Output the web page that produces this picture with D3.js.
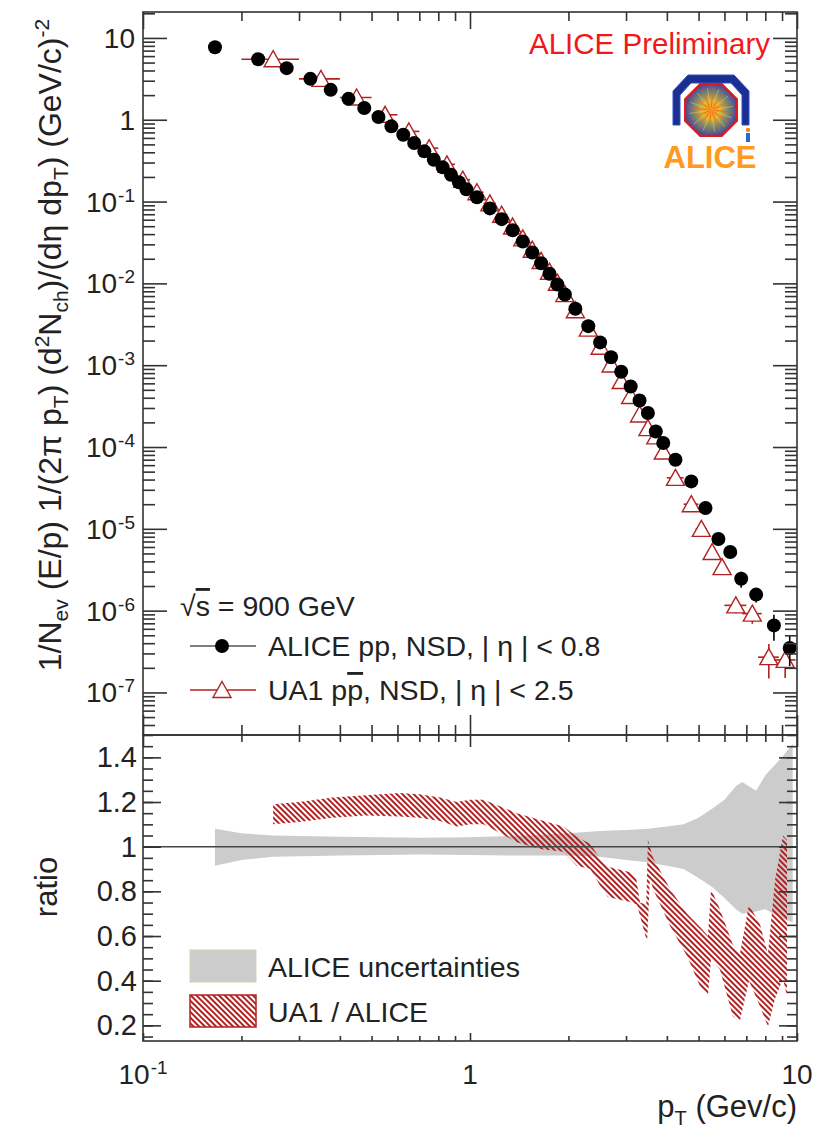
<!DOCTYPE html>
<html>
<head>
<meta charset="utf-8">
<script src="https://cdn.jsdelivr.net/npm/d3@7"></script>
<style>
  body { margin: 0; background: #fff; }
  text { font-family: "Liberation Sans", Arial, Helvetica, sans-serif; fill: #222; }
</style>
</head>
<body>
<svg id="chart" width="820" height="1138"></svg>
<script>
// ---- ALICE pp, NSD, |eta| < 0.8 (invariant yield, (GeV/c)^-2) ----
const alicePt = [0.166, 0.225, 0.275, 0.325, 0.375, 0.425, 0.475, 0.525, 0.575, 0.625,
  0.675, 0.725, 0.775, 0.825, 0.875, 0.925, 0.975, 1.05, 1.15, 1.25, 1.35, 1.45, 1.55,
  1.65, 1.75, 1.85, 1.95, 2.1, 2.3, 2.5, 2.7, 2.9, 3.1, 3.3, 3.5, 3.7, 3.9, 4.25, 4.75,
  5.25, 5.75, 6.25, 6.75, 7.5, 8.5, 9.5];
const aliceYield = [7.7, 5.5, 4.27, 3.16, 2.32, 1.80, 1.39, 1.08, 0.83, 0.656,
  0.52, 0.411, 0.325, 0.262, 0.212, 0.172, 0.141, 0.113, 0.0825, 0.061, 0.0447, 0.0325, 0.0238,
  0.0176, 0.0131, 0.0097, 0.0073, 0.0049, 0.0030, 0.0019, 0.00125, 0.00083, 0.00055, 0.00037,
  0.00026, 0.000155, 0.000112, 7.0e-5, 3.8e-5, 1.8e-5, 7.5e-6, 5.2e-6, 2.45e-6, 1.57e-6,
  6.6e-7, 3.5e-7];
const aliceRelErr = [0.03, 0.03, 0.03, 0.03, 0.03, 0.03, 0.03, 0.03, 0.03, 0.03,
  0.03, 0.03, 0.03, 0.03, 0.03, 0.03, 0.03, 0.03, 0.03, 0.03, 0.03, 0.03, 0.03,
  0.03, 0.03, 0.03, 0.03, 0.03, 0.03, 0.03, 0.03, 0.04, 0.04, 0.04, 0.05, 0.05, 0.05, 0.06, 0.08,
  0.10, 0.12, 0.15, 0.22, 0.20, 0.35, 0.40];

// ---- UA1 p-pbar, NSD, |eta| < 2.5 ----
const ua1Pt = [0.25, 0.35, 0.45, 0.55, 0.65, 0.75, 0.85, 0.95, 1.05, 1.15, 1.25, 1.35,
  1.45, 1.55, 1.65, 1.75, 1.85, 1.95, 2.1, 2.3, 2.5, 2.7, 2.9, 3.1, 3.3, 3.5, 3.7, 3.9,
  4.25, 4.75, 5.1, 5.5, 5.9, 6.5, 7.3, 8.2, 9.2];
const ua1HalfWidth = [0.05, 0.05, 0.05, 0.05, 0.05, 0.05, 0.05, 0.05, 0.05, 0.05, 0.05, 0.05,
  0.05, 0.05, 0.05, 0.05, 0.05, 0.05, 0.1, 0.1, 0.1, 0.1, 0.1, 0.1, 0.1, 0.1, 0.1, 0.1,
  0.25, 0.25, 0.2, 0.2, 0.2, 0.5, 0.5, 0.6, 0.7];
const ua1Yield = [5.5, 3.16, 1.87, 1.15, 0.72, 0.45, 0.285, 0.185, 0.13, 0.095, 0.069, 0.0495,
  0.0355, 0.0258, 0.0188, 0.0139, 0.0102, 0.0074, 0.0047, 0.0028, 0.00168, 0.00102, 0.00064,
  0.00042, 0.00025, 0.00017, 0.000135, 8.8e-5, 4.2e-5, 2.0e-5, 1.0e-5, 5.2e-6, 3.4e-6,
  1.16e-6, 9.2e-7, 2.7e-7, 2.5e-7];
const ua1RelErr = [0.04, 0.04, 0.04, 0.04, 0.04, 0.04, 0.04, 0.04, 0.04, 0.04, 0.04, 0.04,
  0.04, 0.04, 0.04, 0.04, 0.04, 0.04, 0.04, 0.04, 0.04, 0.04, 0.04, 0.04, 0.04, 0.04, 0.04, 0.04,
  0.06, 0.08, 0.10, 0.12, 0.15, 0.20, 0.25, 0.45, 0.40];

// ---- ratio panel: UA1 / ALICE band edges ----
const ratioTopPt = [0.25, 0.30, 0.38, 0.48, 0.61, 0.70, 0.81, 0.91, 1.0, 1.10, 1.24, 1.39,
  1.64, 1.93, 2.12, 2.33, 2.50, 2.64, 3.09, 3.22, 3.31, 3.46, 3.50, 3.63, 4.09, 4.61, 5.05,
  5.34, 5.46, 5.81, 6.37, 6.69, 7.13, 7.71, 8.15, 8.57, 9.06, 9.32];
const ratioTop = [1.19, 1.20, 1.22, 1.23, 1.24, 1.235, 1.22, 1.20, 1.21, 1.21, 1.18, 1.15,
  1.12, 1.09, 1.045, 1.013, 0.946, 0.91, 0.886, 0.86, 0.75, 0.74, 1.03, 0.95, 0.81, 0.70, 0.64,
  0.60, 0.81, 0.72, 0.56, 0.52, 0.74, 0.65, 0.52, 0.85, 1.05, 1.03];
const ratioBotPt = [0.25, 0.30, 0.38, 0.48, 0.61, 0.70, 0.81, 0.91, 1.0, 1.10, 1.24, 1.39,
  1.64, 1.93, 2.12, 2.33, 2.50, 2.64, 3.09, 3.24, 3.48, 3.55, 3.63, 4.09, 4.61, 5.05,
  5.34, 5.46, 5.81, 6.37, 6.69, 7.13, 7.71, 8.15, 8.57, 9.06, 9.32];
const ratioBot = [1.10, 1.11, 1.13, 1.14, 1.135, 1.13, 1.115, 1.09, 1.10, 1.10, 1.06, 1.02,
  0.99, 0.977, 0.915, 0.90, 0.825, 0.775, 0.752, 0.74, 0.573, 0.86, 0.81, 0.645, 0.51, 0.375,
  0.33, 0.50, 0.45, 0.24, 0.22, 0.40, 0.285, 0.195, 0.32, 0.41, 0.33];

// ---- ratio panel: ALICE uncertainty band ----
const uncPt = [0.166, 0.2, 0.25, 0.4, 0.7, 1.0, 1.5, 2.0, 2.5, 3.0, 3.5, 4.0, 4.5, 5.0, 5.5,
  6.0, 6.5, 6.8, 7.5, 8.0, 9.0, 9.7];
const uncHi = [1.08, 1.06, 1.05, 1.045, 1.04, 1.042, 1.05, 1.06, 1.07, 1.075, 1.08, 1.09,
  1.10, 1.13, 1.17, 1.21, 1.27, 1.29, 1.25, 1.32, 1.40, 1.46];
const uncLo = [0.915, 0.94, 0.955, 0.96, 0.965, 0.963, 0.96, 0.96, 0.955, 0.94, 0.93, 0.915,
  0.90, 0.86, 0.82, 0.77, 0.72, 0.70, 0.71, 0.72, 0.68, 0.66];

// ---- axis tick labels ----
const yExponents = [1, 0, -1, -2, -3, -4, -5, -6, -7];
const ratioTickLabels = [0.2, 0.4, 0.6, 0.8, 1, 1.2, 1.4];
const xExponents = [-1, 0, 1];

// ---------------- layout ----------------
const L = 143, R = 797, T = 12, M = 735, B = 1041;
const svg = d3.select("#chart");
const INK = "#333";
const RED = "#b22222";

const x = d3.scaleLog().domain([0.1, 10]).range([L, R]);
const y = d3.scaleLog().domain([Math.pow(10, -7.52), Math.pow(10, 1.317)]).range([M, T]);
const yr = d3.scaleLinear().domain([0.13, 1.5]).range([B, M]);

const defs = svg.append("defs");
const hatch = defs.append("pattern").attr("id", "hatch")
  .attr("patternUnits", "userSpaceOnUse").attr("width", 6).attr("height", 4)
  .attr("patternTransform", "rotate(45)");
hatch.append("rect").attr("width", 6).attr("height", 2).attr("fill", RED);
defs.append("clipPath").attr("id", "clipUp").append("rect")
  .attr("x", L).attr("y", T).attr("width", R - L).attr("height", M - T);
defs.append("clipPath").attr("id", "clipLo").append("rect")
  .attr("x", L).attr("y", M).attr("width", R - L).attr("height", B - M);

// minor tick values
const xMinor = [];
[0.1, 1].forEach(d => { for (let k = 2; k <= 9; k++) xMinor.push(d * k); });
const yMinor = [];
for (let e = -8; e <= 1; e++) for (let k = 2; k <= 9; k++) {
  const v = k * Math.pow(10, e);
  if (v > y.domain()[0] && v < y.domain()[1]) yMinor.push(v);
}
const yMajor = yExponents.map(e => Math.pow(10, e));
const xMajor = xExponents.map(e => Math.pow(10, e));
const rMinor = d3.range(0.15, 1.501, 0.05);

function tickAxis(axisFn, scale, values, size, tx, ty) {
  const g = svg.append("g").attr("transform", `translate(${tx},${ty})`)
    .call(axisFn(scale).tickValues(values).tickSize(-size).tickSizeOuter(0).tickFormat(""));
  g.select(".domain").remove();
  g.selectAll("line").attr("stroke", INK).attr("stroke-width", 1.6);
  return g;
}

// ---------------- ratio panel content ----------------
const lower = svg.append("g").attr("clip-path", "url(#clipLo)");
const uncArea = d3.area().x((d, i) => x(uncPt[i])).y0((d, i) => yr(uncLo[i])).y1((d, i) => yr(uncHi[i]));
lower.append("path").attr("d", uncArea(uncPt)).attr("fill", "#cccccc");

// band polygon: top edge left->right, bottom edge right->left
const bandPts = ratioTopPt.map((p, i) => [x(p), yr(ratioTop[i])])
  .concat(ratioBotPt.map((p, i) => [x(p), yr(ratioBot[i])]).reverse());
lower.append("path").attr("d", d3.line()(bandPts) + "Z").attr("fill", "url(#hatch)");

lower.append("line").attr("x1", L).attr("x2", R).attr("y1", yr(1)).attr("y2", yr(1))
  .attr("stroke", "#444").attr("stroke-width", 1.6);

// ---------------- spectra ----------------
const upper = svg.append("g").attr("clip-path", "url(#clipUp)");
const triPath = "M0,-8.5L9,7.5L-9,7.5Z";

const ua1 = upper.append("g");
ua1Pt.forEach((p, i) => {
  const cx = x(p), cy = y(ua1Yield[i]);
  ua1.append("line").attr("x1", x(p - ua1HalfWidth[i])).attr("x2", x(p + ua1HalfWidth[i]))
    .attr("y1", cy).attr("y2", cy).attr("stroke", RED).attr("stroke-width", 1.6);
  ua1.append("line").attr("x1", cx).attr("x2", cx)
    .attr("y1", y(ua1Yield[i] * (1 + ua1RelErr[i]))).attr("y2", y(ua1Yield[i] * (1 - ua1RelErr[i])))
    .attr("stroke", RED).attr("stroke-width", 1.6);
  ua1.append("path").attr("d", triPath).attr("transform", `translate(${cx},${cy})`)
    .attr("fill", "#fff").attr("stroke", RED).attr("stroke-width", 1.4);
});

const alice = upper.append("g");
alicePt.forEach((p, i) => {
  const cx = x(p);
  alice.append("line").attr("x1", cx).attr("x2", cx)
    .attr("y1", y(aliceYield[i] * (1 + aliceRelErr[i]))).attr("y2", y(aliceYield[i] * (1 - aliceRelErr[i])))
    .attr("stroke", "#000").attr("stroke-width", 1.6);
  alice.append("circle").attr("cx", cx).attr("cy", y(aliceYield[i])).attr("r", 7).attr("fill", "#000");
});

// ---------------- frames and ticks ----------------
svg.append("rect").attr("x", L).attr("y", T).attr("width", R - L).attr("height", M - T)
  .attr("fill", "none").attr("stroke", INK).attr("stroke-width", 1.6);
svg.append("rect").attr("x", L).attr("y", M).attr("width", R - L).attr("height", B - M)
  .attr("fill", "none").attr("stroke", INK).attr("stroke-width", 1.6);

// upper panel
tickAxis(d3.axisLeft, y, yMajor, 24, L, 0);
tickAxis(d3.axisLeft, y, yMinor, 12, L, 0);
tickAxis(d3.axisRight, y, yMajor, 24, R, 0);
tickAxis(d3.axisRight, y, yMinor, 12, R, 0);
tickAxis(d3.axisTop, x, xMajor, 17, 0, T);
tickAxis(d3.axisTop, x, xMinor, 9, 0, T);
tickAxis(d3.axisBottom, x, xMajor, 20, 0, M);
tickAxis(d3.axisBottom, x, xMinor, 10, 0, M);
// ratio panel
tickAxis(d3.axisTop, x, xMajor, 12, 0, M);
tickAxis(d3.axisTop, x, xMinor, 7, 0, M);
tickAxis(d3.axisBottom, x, xMajor, 8, 0, B);
tickAxis(d3.axisBottom, x, xMinor, 5, 0, B);
tickAxis(d3.axisLeft, yr, ratioTickLabels, 18, L, 0);
tickAxis(d3.axisLeft, yr, rMinor, 10, L, 0);
tickAxis(d3.axisRight, yr, ratioTickLabels, 18, R, 0);
tickAxis(d3.axisRight, yr, rMinor, 10, R, 0);

// ---------------- tick labels ----------------
const FS = 28, FSE = 19;
function powLabel(g, e, px, py, anchor) {
  const t = g.append("text").attr("x", px).attr("y", py).attr("text-anchor", anchor)
    .attr("font-size", FS);
  if (e === 0) { t.text("1"); return t; }
  if (e === 1) { t.text("10"); return t; }
  t.append("tspan").text("10");
  t.append("tspan").attr("dy", -10).attr("dx", 1).attr("font-size", FSE).text(e < 0 ? "-" + (-e) : e);
  return t;
}
const labels = svg.append("g");
yExponents.forEach(e => powLabel(labels, e, 135, y(Math.pow(10, e)) + 10, "end"));
ratioTickLabels.forEach(v => labels.append("text").attr("x", 137).attr("y", yr(v) + 10)
  .attr("text-anchor", "end").attr("font-size", 29).text(d3.format("")(v)));
xExponents.forEach(e => powLabel(labels, e, x(Math.pow(10, e)), 1084, "middle"));

// ---------------- axis titles ----------------
const yt = svg.append("text").attr("transform", "translate(61,345) rotate(-90)")
  .attr("text-anchor", "middle").attr("font-size", 32);
const ytParts = [["1/N", 0], ["ev", 1], [" (E/p) 1/(2\u03c0 p", 0], ["T", 1], [") (d", 0], ["2", 2],
  ["N", 0], ["ch", 1], [")/(d\u03b7 dp", 0], ["T", 1], [") (GeV/c)", 0], ["-2", 2]];
let shift = 0;
ytParts.forEach(([s, kind]) => {
  const target = kind === 1 ? 7 : kind === 2 ? -12 : 0;
  yt.append("tspan").attr("dy", target - shift).attr("font-size", kind ? 21 : 32).text(s);
  shift = target;
});

svg.append("text").attr("transform", "translate(57,887) rotate(-90)")
  .attr("text-anchor", "middle").attr("font-size", 31).text("ratio");

const xt = svg.append("text").attr("x", R).attr("y", 1117).attr("text-anchor", "end").attr("font-size", 31);
xt.append("tspan").text("p");
xt.append("tspan").attr("dy", 8).attr("font-size", 20).text("T");
xt.append("tspan").attr("dy", -8).text(" (Gev/c)");

// ---------------- legends ----------------
const LFS = 28.5;
const leg = svg.append("g");
const sq = leg.append("text").attr("x", 180).attr("y", 616).attr("font-size", LFS);
sq.append("tspan").text("\u221a");
sq.append("tspan").attr("text-decoration", "overline").text("s");
sq.append("tspan").text(" = 900 GeV");

leg.append("line").attr("x1", 190).attr("x2", 256).attr("y1", 646).attr("y2", 646)
  .attr("stroke", "#000").attr("stroke-width", 1.2);
leg.append("circle").attr("cx", 222).attr("cy", 646).attr("r", 7).attr("fill", "#000");
leg.append("text").attr("x", 268).attr("y", 656).attr("font-size", LFS)
  .text("ALICE pp, NSD, | \u03b7 | < 0.8");

leg.append("line").attr("x1", 190).attr("x2", 256).attr("y1", 690).attr("y2", 690)
  .attr("stroke", RED).attr("stroke-width", 1.6);
leg.append("path").attr("d", triPath).attr("transform", "translate(222,690)")
  .attr("fill", "#fff").attr("stroke", RED).attr("stroke-width", 1.4);
const ua1Label = leg.append("text").attr("x", 268).attr("y", 700).attr("font-size", LFS);
ua1Label.append("tspan").text("UA1 p");
ua1Label.append("tspan").attr("text-decoration", "overline").text("p");
ua1Label.append("tspan").text(", NSD, | \u03b7 | < 2.5");

leg.append("rect").attr("x", 190).attr("y", 950).attr("width", 66).attr("height", 32)
  .attr("fill", "#cccccc").attr("stroke", "#d6d0b8").attr("stroke-width", 1);
leg.append("text").attr("x", 268).attr("y", 977).attr("font-size", LFS).text("ALICE uncertainties");
leg.append("rect").attr("x", 190).attr("y", 995).attr("width", 66).attr("height", 32)
  .attr("fill", "url(#hatch)").attr("stroke", RED).attr("stroke-width", 1.5);
leg.append("text").attr("x", 268).attr("y", 1022).attr("font-size", LFS).text("UA1 / ALICE");

// ---------------- header ----------------
svg.append("text").attr("x", 770).attr("y", 54).attr("text-anchor", "end").attr("font-size", 29.5)
  .style("fill", "#f01818").text("ALICE Preliminary");

// experiment logo
const logo = svg.append("g").attr("transform", "translate(711,108)");
const grad = defs.append("radialGradient").attr("id", "burst");
grad.append("stop").attr("offset", "0%").attr("stop-color", "#ff7a00");
grad.append("stop").attr("offset", "35%").attr("stop-color", "#e0b030");
grad.append("stop").attr("offset", "65%").attr("stop-color", "#7a8a70");
grad.append("stop").attr("offset", "100%").attr("stop-color", "#4a4a9a");
logo.append("path").attr("d", "M-38,17L-38,-17L-23,-33L23,-33L38,-17L38,17L31,17L31,-13L20,-25L-20,-25L-31,-13L-31,17Z")
  .attr("fill", "#1b2f93").attr("stroke", "#3050c0").attr("stroke-width", 1);
const oct = d3.range(8).map(k => {
  const a = Math.PI / 8 + k * Math.PI / 4;
  return [28 * Math.cos(a), 2 + 28 * Math.sin(a)];
});
logo.append("path").attr("d", d3.line()(oct) + "Z").attr("fill", "url(#burst)")
  .attr("stroke", "#e01818").attr("stroke-width", 2.2);
d3.range(24).forEach(k => {
  const a = k * Math.PI / 12 + 0.1;
  logo.append("line").attr("x1", 0).attr("y1", 2).attr("x2", 22 * Math.cos(a)).attr("y2", 2 + 22 * Math.sin(a))
    .attr("stroke", k % 2 ? "#f0d040" : "#ff5020").attr("stroke-width", 0.7).attr("opacity", 0.8);
});
logo.append("circle").attr("cx", 37).attr("cy", 22).attr("r", 2.2).attr("fill", "#f08a20");
logo.append("rect").attr("x", 35).attr("y", 25).attr("width", 4).attr("height", 9).attr("fill", "#2a6ad0");
svg.append("text").attr("x", 710).attr("y", 168).attr("text-anchor", "middle").attr("font-size", 31)
  .attr("font-weight", "bold").style("fill", "#ff9a20").text("ALICE");
</script>
</body>
</html>
